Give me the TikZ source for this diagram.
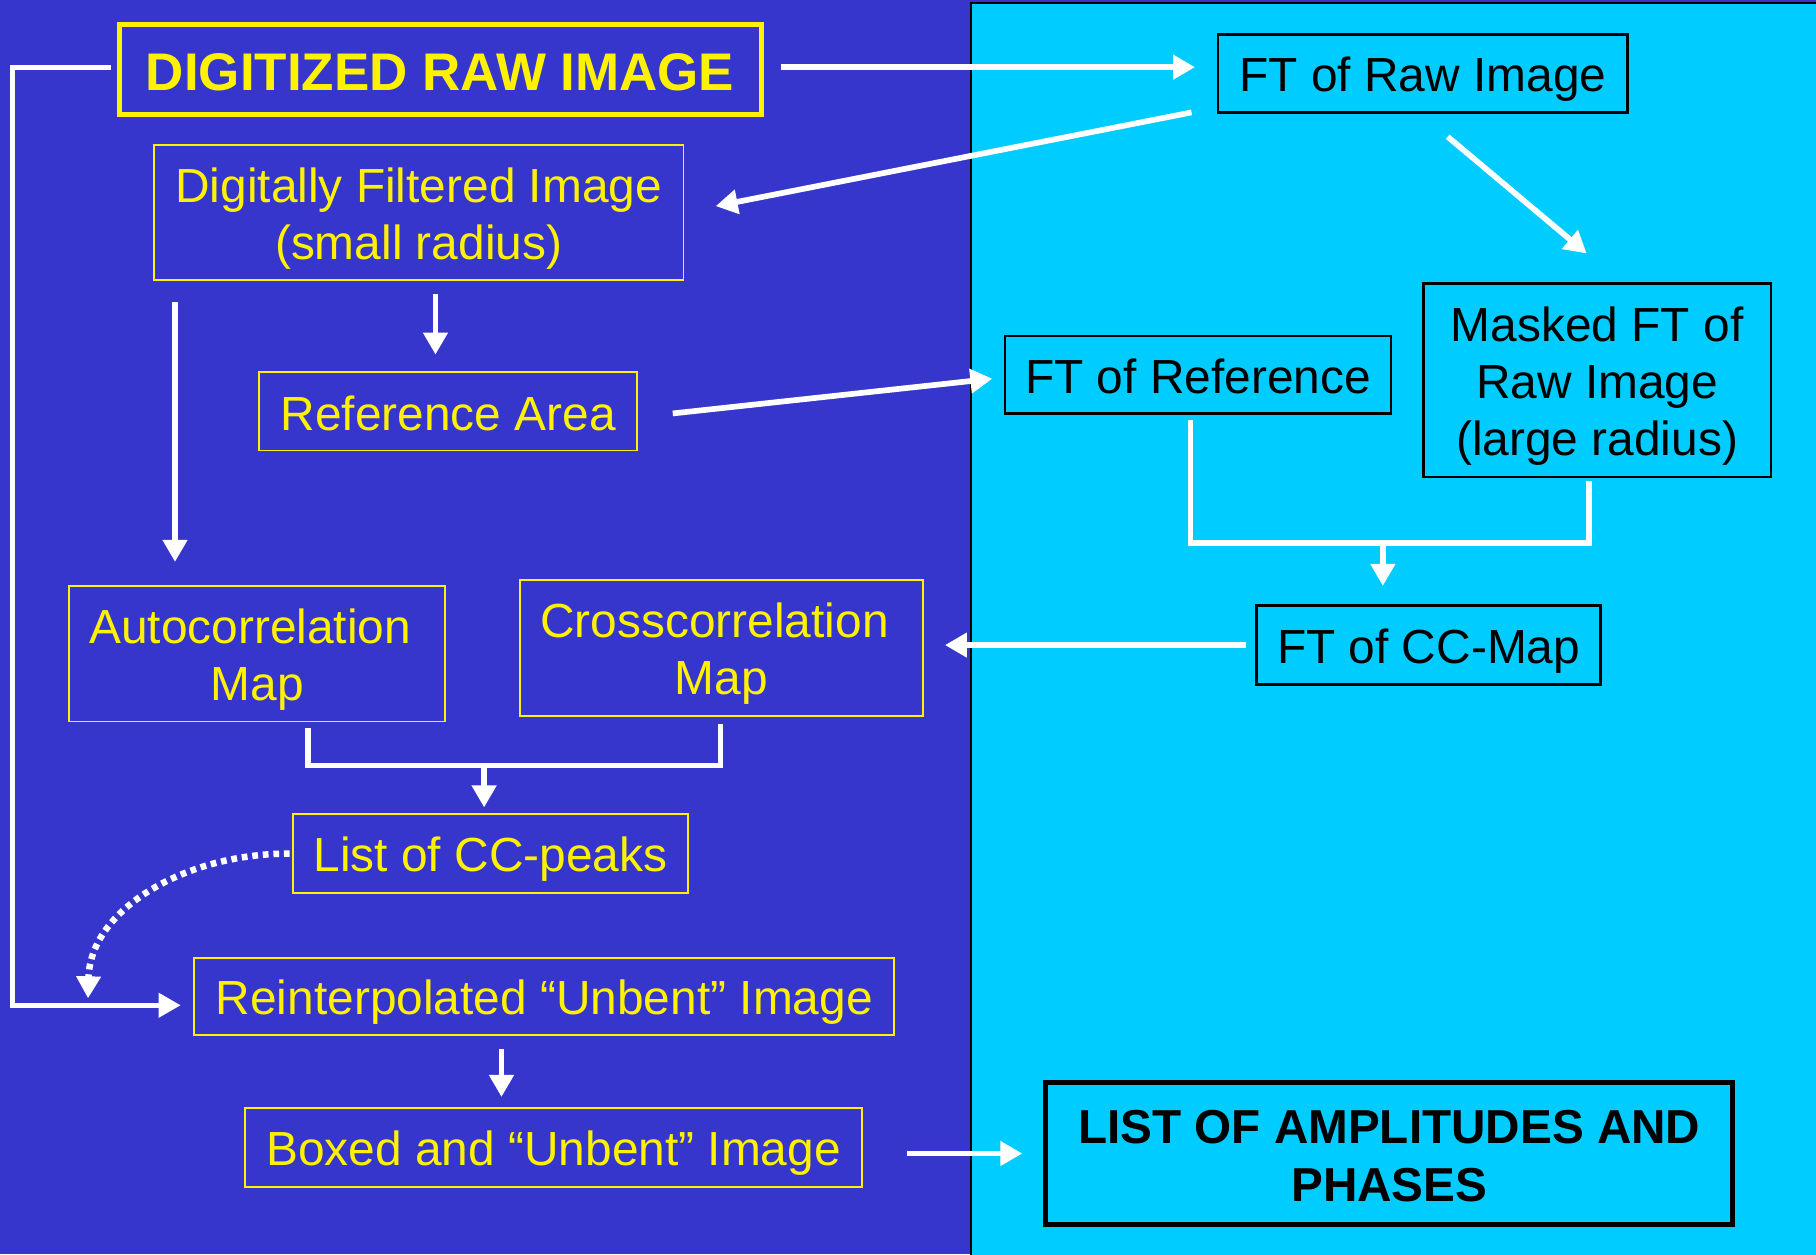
\documentclass[tikz,border=0pt]{standalone}
\usepackage{fontspec}
\setmainfont{Liberation Sans}
\usetikzlibrary{arrows.meta,calc}
\definecolor{bgblue}{RGB}{54,54,204}
\definecolor{bgcyan}{RGB}{0,204,255}
\newcommand\fsn{\fontsize{11.75}{14}\selectfont}
\newcommand\fst{\fontsize{13}{15}\selectfont\bfseries}
\newcommand\fsl{\fontsize{11.7}{14.2}\selectfont\bfseries}
\newcommand\mystrut{\rule[-2pt]{0pt}{13.4pt}}
\newcommand\mystrutt{\rule[-2pt]{0pt}{14.4pt}}
\begin{document}
\begin{tikzpicture}[x=0.01cm,y=-0.01cm,
  ybox/.style={draw=yellow,line width=0.45pt,text=yellow,inner sep=0pt,align=center,font=\fsn},
  kbox/.style={draw=black,line width=0.6pt,text=black,inner sep=0pt,align=center,font=\fsn},
  wline/.style={draw=white,line width=1.4pt,line join=miter,line cap=butt},
  arr/.style={wline,-{Triangle[length=5.4pt,width=5.8pt]}},
  dotarr/.style={draw=white,line width=1.6pt,dash pattern=on 1.4pt off 1.2pt,-{Triangle[length=5.4pt,width=5.8pt]}}]
\useasboundingbox (0,0) rectangle (1568,1083);
\fill[bgblue] (0,0) rectangle (1568,1083);
\filldraw[fill=bgcyan,draw=black,line width=0.5pt] (838,3) rectangle (1590,1100);

% nodes
\node[ybox,font=\fst,line width=1.2pt,minimum width=5.54cm,minimum height=0.77cm] (title) at (380,60) {\mystrutt DIGITIZED RAW IMAGE};
\node[kbox,minimum width=3.53cm,minimum height=0.67cm] (ftraw) at (1228.5,63.5) {\mystrut FT of Raw Image};
\node[ybox,minimum width=4.57cm,minimum height=1.17cm] (filt) at (361.5,183.5) {\mystrut Digitally Filtered Image\\\mystrut(small radius)};
\node[ybox,minimum width=3.26cm,minimum height=0.68cm] (refa) at (387,355) {\mystrut Reference Area};
\node[kbox,minimum width=3.33cm,minimum height=0.67cm] (ftref) at (1034.5,323.5) {\mystrut FT of Reference};
\node[kbox,minimum width=3.00cm,minimum height=1.67cm] (mask) at (1379,328.5) {\mystrut Masked FT of\\\mystrut Raw Image\\\mystrut(large radius)};
\node[ybox,minimum width=3.24cm,minimum height=1.17cm] (auto) at (222,564.5) {\mystrut Autocorrelation\kern3.4pt\\\mystrut Map};
\node[ybox,minimum width=3.48cm,minimum height=1.17cm] (cross) at (623,559.5) {\mystrut Crosscorrelation\kern3.4pt\\\mystrut Map};
\node[kbox,minimum width=2.97cm,minimum height=0.68cm] (ftcc) at (1233.5,557) {\mystrut FT of CC-Map};
\node[ybox,minimum width=3.41cm,minimum height=0.68cm] (peaks) at (423.5,737) {\mystrut List of CC-peaks};
\node[ybox,minimum width=6.04cm,minimum height=0.67cm] (reint) at (470,860.5) {\mystrut Reinterpolated “Unbent” Image};
\node[ybox,minimum width=5.32cm,minimum height=0.68cm] (boxed) at (478,991) {\mystrut Boxed and “Unbent” Image};
\node[kbox,font=\fsl,line width=1.2pt,minimum width=5.93cm,minimum height=1.22cm] (list) at (1199.5,996) {\mystrut LIST OF AMPLITUDES AND\\\mystrut PHASES};

% connectors
\draw[arr] ($(title.east)+(15,-2)$) -- ($(ftraw.west |- title.east)+(-19,-2)$);
\draw[arr] ($(ftraw.south west)+(-22,-1)$) -- ($(filt.east)+(27,-5.5)$);
\draw[arr] ($(ftraw.south)+(21.5,20)$) -- ($(mask.north)+(-9,-25)$);
\draw[arr] ($(refa.north)+(-11,-66)$) -- ($(refa.north)+(-11,-14)$);
\draw[arr] ($(filt.south west)+(19,18)$) -- ($(auto.north west)+(92,-20)$);
\draw[arr] ($(refa.east)+(30,2)$) -- ($(ftref.west)+(-10,3.5)$);

\coordinate (j1) at (1194,469);
\draw[wline] ($(ftref.south)+(-6.5,5)$) |- (j1) -| ($(mask.south)+(-7,2)$);
\draw[arr] (j1) -- ($(ftcc.north)+(-39.5,-16)$);

\draw[arr] ($(ftcc.west)+(-8,0)$) -- ($(cross.east |- ftcc.west)+(18,0)$);

\coordinate (j2) at (418,661);
\draw[wline] ($(auto.south)+(44,5)$) |- (j2) -| ($(cross.south)+(-1,6)$);
\draw[arr] (j2) -- ($(peaks.north)+(-5.5,-5)$);

\coordinate (lc) at (11,868);
\draw[arr,line width=1.2pt] ($(title.west)+(-5,-2)$) -| (lc) -- ($(reint.west)+(-11,7.5)$);

\coordinate (dc) at (76,862);
\draw[dotarr] ($(peaks.west)+(-2,0)$) .. controls (160,737) and (78,785) .. (dc);

\draw[arr] ($(reint.south)+(-37,11)$) -- ($(boxed.north)+(-45,-9)$);
\draw[arr] ($(boxed.east)+(38,5)$) -- ($(list.west)+(-18,0)$);
\end{tikzpicture}
\end{document}
